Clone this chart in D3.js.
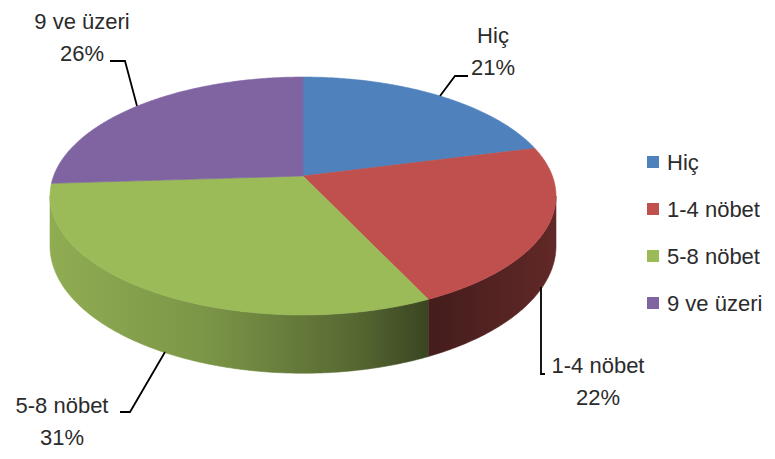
<!DOCTYPE html>
<html>
<head>
<meta charset="utf-8">
<script src="https://cdn.jsdelivr.net/npm/d3@7"></script>
<style>
  html, body { margin: 0; padding: 0; background: #fff; }
  text { font-family: "Liberation Sans", Arial, sans-serif; fill: #2b2b2b; }
</style>
</head>
<body>
<svg id="chart" width="775" height="459"></svg>
<script>
// Seizure-count categories and their shares (%)
const categories = ["Hiç", "1-4 nöbet", "5-8 nöbet", "9 ve üzeri"];
const values = [21, 22, 31, 26];
const colors = ["#4F81BD", "#C0504D", "#9BBB59", "#8064A2"];

// Perspective pie: centre of the disc, horizontal / vertical reach,
// perspective strength and wall height at the middle
const cx = 303, cy = 176, S = 249.4, T = 115.6, k = 0.168, D = 48.5;

const svg = d3.select("#chart");
const defs = svg.append("defs");

const pie = d3.pie().sort(null).value(d => d.value);
const data = categories.map((c, i) => ({ name: c, value: values[i], color: colors[i] }));
const arcs = pie(data);

// angle clockwise from the back of the disc -> projected screen point
function project(a, drop = false) {
  const u = Math.sin(a), v = -Math.cos(a);
  const w = 1 - k * v;
  return [cx + S * u / w, cy + T * v / w + (drop ? D / w : 0)];
}
const line = d3.line();

function sample(a0, a1, drop) {
  const n = Math.max(2, Math.ceil(Math.abs(a1 - a0) / 0.01));
  return d3.range(n + 1).map(i => project(a0 + (a1 - a0) * i / n, drop));
}

// Side-wall gradients: lighter on the left, darkest toward the right
const shade = [[0, 0.92], [0.3, 0.8], [0.6, 0.56], [0.76, 0.36], [1, 0.5]];
arcs.forEach((d, i) => {
  const g = defs.append("linearGradient")
    .attr("id", "side" + i)
    .attr("gradientUnits", "userSpaceOnUse")
    .attr("x1", cx - S).attr("x2", cx + S).attr("y1", 0).attr("y2", 0);
  shade.forEach(([o, f]) => {
    const c = d3.rgb(d.data.color);
    g.append("stop").attr("offset", o)
      .attr("stop-color", d3.rgb(c.r * f, c.g * f, c.b * f).formatHex());
  });
});

// Front wall: rim between the rightmost and leftmost silhouette points
const rimStart = Math.acos(-k), rimEnd = 2 * Math.PI - Math.acos(-k);
const sideLayer = svg.append("g");
arcs.forEach((d, i) => {
  const a0 = Math.max(d.startAngle, rimStart);
  const a1 = Math.min(d.endAngle, rimEnd);
  if (a1 <= a0) return;
  const pts = sample(a0, a1, false).concat(sample(a1, a0, true));
  sideLayer.append("path")
    .attr("d", line(pts) + "Z")
    .attr("fill", `url(#side${i})`)
    .attr("stroke", `url(#side${i})`)
    .attr("stroke-width", 0.6);
});

// Top face slices
const faceLayer = svg.append("g");
arcs.forEach(d => {
  const pts = [[cx, cy]].concat(sample(d.startAngle, d.endAngle, false));
  faceLayer.append("path")
    .attr("d", line(pts) + "Z")
    .attr("fill", d.data.color)
    .attr("stroke", d.data.color)
    .attr("stroke-width", 0.6);
});

// Data labels with leader lines
const labelLayout = [
  { tx: 493, ty: 43, leader: [[440, 96], [455, 76], [468, 76]] },
  { tx: 598, ty: 373, leader: [[541, 287], [541, 374], [545, 374]] },
  { tx: 62, ty: 413, leader: [[165, 352], [130, 412], [120, 412]] },
  { tx: 82, ty: 29, leader: [[137, 106], [125, 61], [110, 61]] }
];

const labelLayer = svg.append("g");
arcs.forEach((d, i) => {
  const L = labelLayout[i];
  labelLayer.append("path")
    .attr("d", line(L.leader))
    .attr("fill", "none")
    .attr("stroke", "#000")
    .attr("stroke-width", 1.8);
  const t = labelLayer.append("text")
    .attr("x", L.tx).attr("y", L.ty)
    .attr("text-anchor", "middle")
    .attr("font-size", 22);
  t.append("tspan").attr("x", L.tx).text(d.data.name);
  t.append("tspan").attr("x", L.tx).attr("dy", 32).text(d.data.value + "%");
});

// Legend
const legend = svg.append("g").attr("transform", "translate(647,162)");
const rowStep = 47;
data.forEach((d, i) => {
  const row = legend.append("g").attr("transform", `translate(0,${i * rowStep})`);
  row.append("rect").attr("x", 0).attr("y", -6).attr("width", 12).attr("height", 12)
    .attr("fill", d.color);
  row.append("text").attr("x", 20).attr("y", 8)
    .attr("font-size", 22).text(d.name);
});
</script>
</body>
</html>
